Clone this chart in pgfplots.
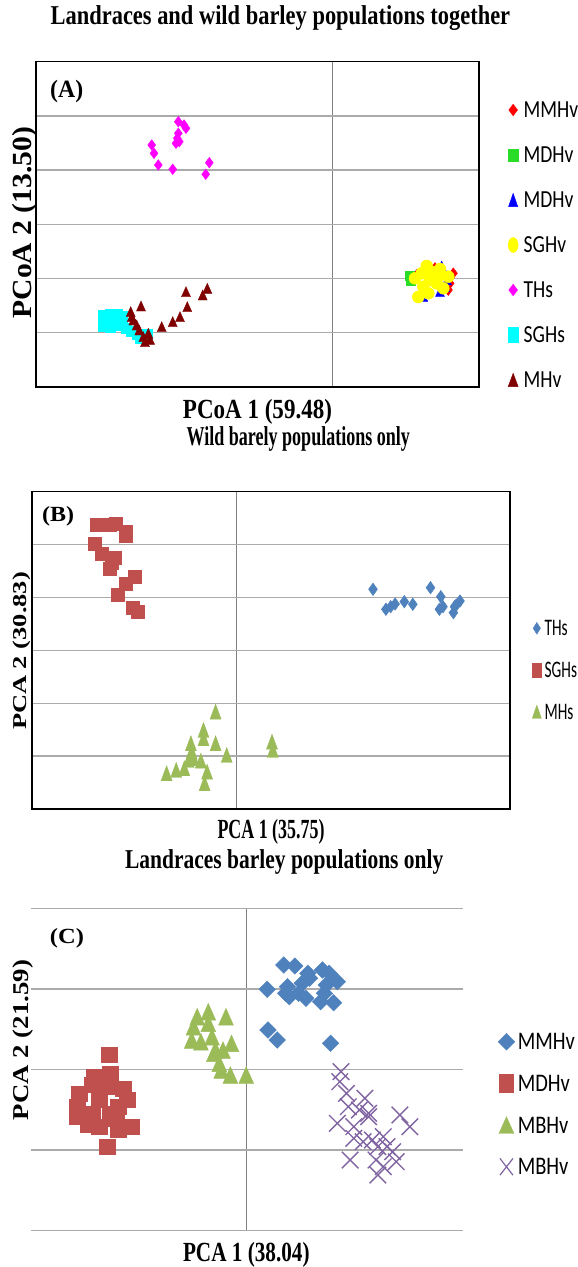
\documentclass[border=0pt]{standalone}
\usepackage{fontspec}
\setmainfont{Liberation Serif}
\newfontfamily\legA[FakeStretch=0.8]{Carlito}
\newfontfamily\legB[FakeStretch=0.65]{Carlito}
\newfontfamily\legC[FakeStretch=0.81]{Carlito}
\usepackage{graphicx}
\usepackage{pgfplots}
\pgfplotsset{compat=1.18}
\definecolor{aRed}{RGB}{255,0,0}
\definecolor{aGreen}{RGB}{40,220,40}
\definecolor{aBlue}{RGB}{0,0,255}
\definecolor{aYellow}{RGB}{255,255,0}
\definecolor{aMag}{RGB}{255,0,255}
\definecolor{aCyan}{RGB}{0,255,255}
\definecolor{aDark}{RGB}{128,0,0}
\definecolor{oBlue}{RGB}{79,129,189}
\definecolor{oRed}{RGB}{192,80,77}
\definecolor{oGreen}{RGB}{155,187,89}
\definecolor{oPurple}{RGB}{128,100,162}
\newcommand{\rb}[3]{\resizebox{#1pt}{#2pt}{\bfseries #3}}
\pgfplotsset{
  legend image code/.code={\draw[#1] plot coordinates {(0pt,0pt)};},
  panel/.style={
    scale only axis, clip=false, y dir=reverse,
    xticklabels={}, yticklabels={}, major tick length=0pt,
    tick style={draw=none},
    xmajorgrids, ymajorgrids,
    x grid style={line width=0.8pt, color=black!50},
    y grid style={line width=1.3pt, color=black!33},
    legend cell align=left,
    title style={inner sep=0pt, yshift=0pt, anchor=base},
    xlabel style={inner sep=0pt, anchor=base},
    ylabel style={inner sep=0pt, anchor=base},
  },
}
\begin{document}
\begin{tikzpicture}
\useasboundingbox (0,0) rectangle (578pt,1267pt);
% ---------------- Panel A ----------------
\begin{axis}[panel,
  at={(35.7pt,1205.3pt)}, anchor=north west,
  width=443.3pt, height=325.3pt,
  xmin=35.7, xmax=479, ymin=61.7, ymax=387,
  xtick={332}, ytick={115.9,170.1,224.3,278.5,332.7},
  axis line style={line width=1.6pt},
  title={\rb{459.5}{18.9}{Landraces and wild barley populations together}},
  title style={at={(axis description cs:0.5521,1.0944)}},
  xlabel={\rb{149}{19.2}{PCoA 1 (59.48)}},
  xlabel style={at={(axis description cs:0.5003,-0.0962)}},
  ylabel={\rb{191.6}{19.2}{PCoA 2 (13.50)}},
  ylabel style={at={(axis description cs:-0.0090,0.5057)}},
  legend style={at={(axis description cs:1.0657,0.8884)}, anchor=north west,
    draw=none, fill=none, inner sep=0pt, outer sep=0pt, row sep=21pt,
    font=\legA\fontsize{24.5}{24.5}\selectfont,
    nodes={inner xsep=5.5pt, inner ysep=0pt, text height=19.75pt, text depth=4.25pt}},
]
\addplot[only marks, forget plot, color=aRed, mark=diamond*, mark size=5.5pt]
  coordinates {(416.7,275) (453.3,273.3) (450,283.3) (448.3,290) (435,268)};
\addplot[only marks, forget plot, color=aGreen, mark=square*, mark size=4.5pt]
  coordinates {(409.5,276) (411,281)};
\addplot[only marks, forget plot, color=aBlue, mark=triangle*, mark size=6.5pt, mark options={xscale=0.8, yshift=-1.6pt}]
  coordinates {(441.7,266) (443.3,270) (440,291.7) (423.3,296.7) (445,287) (447,280)};
\addplot[only marks, forget plot, color=aYellow, mark=*, mark size=6pt]
  coordinates {(426.7,266) (440,269) (415,278.3) (448.3,276.7) (418.3,297) (428.3,293.3) (430,280) (423.3,286.7) (436.7,283.3) (440,275) (421.7,273.3) (443.3,288.3) (432,272)};
\addplot[only marks, forget plot, color=aMag, mark=diamond*, mark size=5.3pt]
  coordinates {(178.3,121.7) (184,125) (186,128.3) (178.3,133.3) (177.3,138.3) (179.3,141.7) (176,143.3) (151.7,145) (154,153.3) (158.3,165) (172.7,169.3) (209.3,162.7) (205.7,174.3)};
\addplot[only marks, forget plot, color=aCyan, mark=square*, mark size=5pt]
  coordinates {(103.5,315) (110,314) (117,314) (122,316) (103.5,326) (110,327) (117,325) (122,322) (126,328) (131,331) (137,334) (143,335) (147,334) (140,338) (112,321)};
\addplot[only marks, forget plot, color=aDark, mark=triangle*, mark size=6.7pt, mark options={xscale=0.78, yshift=-1.7pt}]
  coordinates {(141,306) (130.7,311.7) (131.7,316.7) (133.3,320) (136.7,325) (139.3,330) (143.3,336.7) (148.3,333.3) (150,339.3) (145,341.7) (161.7,326.7) (172.7,321.7) (180,316.7) (187.3,306.7) (186,291.7) (202.7,295) (207.3,288.3)};
\addlegendimage{color=aRed, mark=diamond*, mark size=5.85pt}
\addlegendentry{MMHv}
\addlegendimage{color=aGreen, mark=square*, mark size=6.3pt, mark options={xscale=0.73}}
\addlegendentry{MDHv}
\addlegendimage{color=aBlue, mark=triangle*, mark size=8.9pt, mark options={xscale=0.6, yshift=-2.2pt}}
\addlegendentry{MDHv}
\addlegendimage{color=aYellow, mark=*, mark size=7.5pt, mark options={xscale=0.67}}
\addlegendentry{SGHv}
\addlegendimage{color=aMag, mark=diamond*, mark size=5.85pt}
\addlegendentry{THs}
\addlegendimage{color=aCyan, mark=square*, mark size=7.5pt, mark options={xscale=0.61}}
\addlegendentry{SGHs}
\addlegendimage{color=aDark, mark=triangle*, mark size=8.9pt, mark options={xscale=0.65, yshift=-2.2pt}}
\addlegendentry{MHv}
\node[anchor=base west, inner sep=0pt] at (axis cs:50,97.3) {\rb{33}{17.3}{(A)}};
\end{axis}
% ---------------- Panel B ----------------
\begin{axis}[panel,
  at={(32.1pt,775.3pt)}, anchor=north west,
  width=477.7pt, height=317.3pt,
  xmin=32.1, xmax=509.8, ymin=491.7, ymax=809,
  xtick={236.3}, ytick={544.6,597.5,650.3,703.2,756.1},
  axis line style={line width=1.6pt},
  title={\rb{223.3}{18.9}{Wild barely populations only}},
  title style={at={(axis description cs:0.5573,1.1261)}},
  xlabel={\rb{107}{19.2}{PCA 1 (35.75)}},
  xlabel style={at={(axis description cs:0.5001,-0.0923)}},
  ylabel={\rb{158}{13.6}{PCA 2 (30.83)}},
  ylabel style={at={(axis description cs:-0.0107,0.498)}},
  legend style={at={(axis description cs:1.0471,0.6073)}, anchor=north west,
    draw=none, fill=none, inner sep=0pt, outer sep=0pt, row sep=17.7pt,
    font=\legB\fontsize{23.7}{23.7}\selectfont,
    nodes={inner xsep=3.3pt, inner ysep=0pt, text height=19.5pt, text depth=4.5pt}},
]
\addplot[only marks, forget plot, color=oBlue, mark=diamond*, mark size=6.3pt, mark options={xscale=0.95}]
  coordinates {(373,589.3) (385.9,609.3) (390.7,606.7) (395.1,604) (404.3,601.7) (412.8,604.3) (430.5,587.7) (440.8,596.7) (439.4,609.3) (443,606.7) (453.4,612.7) (456.3,605) (460,601) (454.5,606.7)};
\addplot[only marks, forget plot, color=oRed, mark=square*, mark size=6.5pt]
  coordinates {(96.5,525) (103,525) (110,525) (116,523.5) (125.3,532) (125.3,536) (95.1,543.3) (101.4,553.3) (114.3,558) (112,563) (109.5,569) (134.5,576.7) (125.3,583.3) (118,595) (133,608) (138,612)};
\addplot[only marks, forget plot, color=oGreen, mark=triangle*, mark size=10pt, mark options={xscale=0.64, yshift=-2.5pt}]
  coordinates {(215.6,711.7) (203.5,730) (203.5,738.3) (215.6,743.3) (226.7,755) (190.9,743.3) (191.7,751.7) (188.7,760) (193.5,758.3) (200.9,760.7) (184.3,768.3) (176.2,770) (166.6,773.3) (207.1,771.7) (204.6,783.3) (272,741.7) (272.8,750)};
\addlegendimage{color=oBlue, mark=diamond*, mark size=5.85pt, mark options={xscale=0.84}}
\addlegendentry{THs}
\addlegendimage{color=oRed, mark=square*, mark size=7pt, mark options={xscale=0.64}}
\addlegendentry{SGHs}
\addlegendimage{color=oGreen, mark=triangle*, mark size=8.7pt, mark options={xscale=0.6, yshift=-2.2pt}}
\addlegendentry{MHs}
\node[anchor=base west, inner sep=0pt] at (axis cs:42,521.7) {\rb{32}{15}{(B)}};
\end{axis}
% ---------------- Panel C ----------------
\begin{axis}[panel,
  at={(31.3pt,359pt)}, anchor=north west,
  width=431.3pt, height=323pt,
  xmin=31.3, xmax=462.6, ymin=908, ymax=1231,
  xtick={246.2}, ytick={908.3,988.9,1069.5,1150.1,1230.7},
  axis line style={draw=none},
  title={\rb{318.3}{18.9}{Landraces barley populations only}},
  title style={at={(axis description cs:0.5864,1.1022)}},
  xlabel={\rb{126.6}{19.2}{PCA 1 (38.04)}},
  xlabel style={at={(axis description cs:0.4985,-0.0950)}},
  ylabel={\rb{160}{15.7}{PCA 2 (21.59)}},
  ylabel style={at={(axis description cs:-0.0065,0.5913)}},
  legend style={at={(axis description cs:1.0824,0.6232)}, anchor=north west,
    draw=none, fill=none, inner sep=0pt, outer sep=0pt, row sep=17.7pt,
    font=\legC\fontsize{25.3}{25.3}\selectfont,
    nodes={inner xsep=3pt, inner ysep=0pt, text height=20pt, text depth=4pt}},
]
\addplot[only marks, forget plot, color=oBlue, mark=diamond*, mark size=8.3pt, mark options={xscale=1.33}]
  coordinates {(283.8,965) (294.9,966) (307.8,973.3) (322.5,970) (329.2,973.3) (337.3,981.7) (267.2,989.3) (287.5,986.7) (302.2,983.3) (326.2,985) (289.3,996.7) (305.9,998.3) (320.7,1001.7) (333.6,1002.7) (298.6,993.3) (309.6,978.3) (268,1030) (277.2,1040) (330.6,1043.3) (285.7,993.3) (324.4,993.3)};
\addplot[only marks, forget plot, color=oRed, mark=square*, mark size=8pt, mark options={yscale=0.94}]
  coordinates {(108.7,1055) (94,1076.7) (110.6,1073.3) (79.2,1093.3) (92.1,1085) (106.9,1086.7) (123.5,1088.3) (99.5,1100) (127.2,1100) (77.4,1116.7) (92.1,1113.3) (110.6,1113.3) (130.9,1126.7) (116.1,1118.3) (88.5,1125) (99.5,1126.7) (106.9,1146.7) (118,1130) (77.4,1106.7) (118,1106.7)};
\addplot[only marks, forget plot, color=oGreen, mark=triangle*, mark size=11.1pt, mark options={xscale=0.77, yshift=-2.8pt}]
  coordinates {(197.2,1016.7) (208.3,1011.7) (226,1016.7) (193.5,1026.7) (208.3,1023.3) (191.7,1040) (200.9,1041.7) (212,1036.7) (231.5,1043.3) (215.6,1050) (223,1050) (219.3,1063.3) (230.4,1075) (246.2,1075) (213.8,1053.3) (221.2,1070)};
\addplot[only marks, forget plot, color=oPurple, mark=x, mark size=11.7pt, mark options={line width=1.4pt}]
  coordinates {(341,1071.7) (339.8,1081.7) (346.5,1093.3) (364.9,1098.3) (348.3,1106.7) (359.4,1110) (368.6,1113.3) (337.3,1123.3) (353.8,1126.7) (399.9,1115) (409.9,1126.7) (383.3,1136.7) (372.3,1140) (363.1,1141.7) (377.8,1146.7) (353.8,1138.3) (392.6,1151.7) (396.2,1161.7) (350.2,1160) (376,1160) (383.3,1166.7) (377.8,1175) (368.6,1116.7) (387,1146.7)};
\addlegendimage{color=oBlue, mark=diamond*, mark size=8.35pt, mark options={xscale=1.33}}
\addlegendentry{MMHv}
\addlegendimage{color=oRed, mark=square*, mark size=9pt, mark options={xscale=0.78}}
\addlegendentry{MDHv}
\addlegendimage{color=oGreen, mark=triangle*, mark size=11.1pt, mark options={xscale=0.78, yshift=-2.8pt}}
\addlegendentry{MBHv}
\addlegendimage{color=oPurple, mark=x, mark size=11.8pt, mark options={xscale=0.78, line width=1.2pt}}
\addlegendentry{MBHv}
\node[anchor=base west, inner sep=0pt] at (axis cs:49.8,943) {\rb{34}{15}{(C)}};
\end{axis}
\end{tikzpicture}
\end{document}
